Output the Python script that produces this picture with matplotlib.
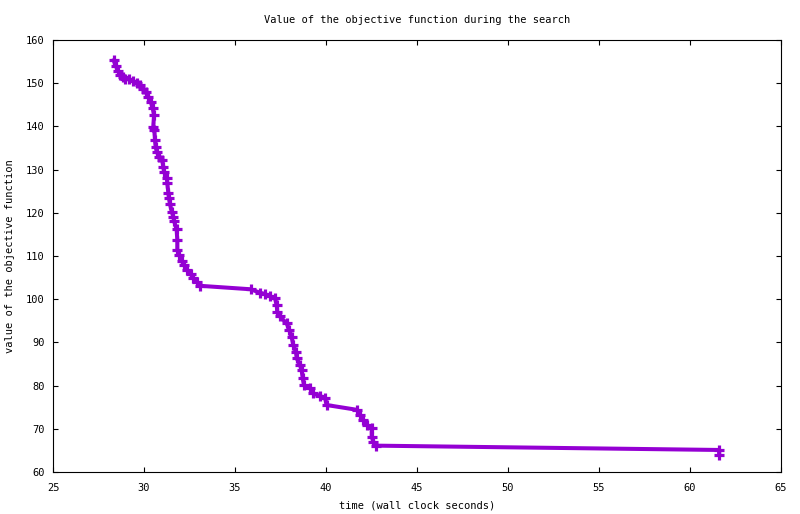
#!/usr/bin/env python3
# -*- coding: utf-8 -*-
"""
Objective function value during the search (gnuplot-style linespoints)
"""

import matplotlib
matplotlib.use("Agg")
import matplotlib.pyplot as plt
from matplotlib import rcParams

rcParams['font.family'] = ['DejaVu Sans Mono']
rcParams['font.size'] = 7.5

# time (wall clock seconds) and objective value
time_s = [
    28.33, 28.45, 28.58, 28.7, 28.83, 28.95, 29.19, 29.4, 29.6, 29.78,
    29.96, 30.1, 30.24, 30.37, 30.48, 30.55, 30.51, 30.57, 30.6, 30.64,
    30.7, 30.84, 31.0, 31.06, 31.1, 31.25, 31.28, 31.34, 31.37, 31.43,
    31.52, 31.61, 31.66, 31.79, 31.83, 31.83, 31.94, 32.07, 32.2, 32.38,
    32.57, 32.71, 32.9, 33.08, 35.86, 36.37, 36.65, 36.92, 37.2, 37.29,
    37.32, 37.47, 37.84, 37.98, 38.11, 38.2, 38.35, 38.39, 38.57, 38.66,
    38.72, 38.79, 39.12, 39.3, 39.67, 39.95, 40.04, 41.69, 41.87, 42.05,
    42.24, 42.51, 42.51, 42.6, 42.75, 61.6, 61.6,
]
objective = [
    155.3, 154.0, 152.8, 152.0, 151.5, 151.0, 150.9, 150.6, 150.0, 149.6,
    148.6, 148.0, 146.9, 145.7, 144.2, 142.6, 139.9, 139.2, 136.9, 135.3,
    134.1, 133.0, 132.2, 130.7, 129.5, 128.1, 126.8, 124.5, 123.4, 122.0,
    120.3, 119.1, 118.0, 116.2, 113.7, 111.4, 110.2, 108.9, 107.9, 106.8,
    105.8, 104.8, 104.0, 103.1, 102.3, 101.5, 101.2, 100.7, 100.2, 98.7,
    97.1, 96.0, 94.4, 92.9, 91.3, 89.4, 87.8, 86.3, 84.8, 83.6,
    81.7, 80.1, 79.4, 78.2, 77.6, 77.1, 75.5, 74.4, 73.2, 72.0,
    70.9, 70.1, 68.2, 67.0, 66.1, 65.1, 64.0,
]

x_ticks = [25, 30, 35, 40, 45, 50, 55, 60, 65]
y_ticks = [60, 70, 80, 90, 100, 110, 120, 130, 140, 150, 160]

fig = plt.figure(figsize=(8.0, 5.14), dpi=100)
ax = fig.add_axes([53 / 800, 1 - 472 / 514, 728 / 800, 432 / 514])

ax.plot(time_s, objective, color='#9400d3', linewidth=2.9,
        marker='+', markersize=6.5, markeredgewidth=2.3)

ax.set_xlim(25, 65)
ax.set_ylim(60, 160)
ax.set_xticks(x_ticks)
ax.set_yticks(y_ticks)
ax.tick_params(direction='in', length=3.3, width=0.8, top=True, right=True,
               labelsize=7.5, color='black')
ax.tick_params(axis='x', pad=8)
ax.tick_params(axis='y', pad=6)
for sp in ax.spines.values():
    sp.set_linewidth(0.8)

fig.text(417 / 800, 1 - 20 / 514, 'Value of the objective function during the search',
         ha='center', va='center', fontsize=7.5)
fig.text(417 / 800, 1 - 505 / 514, 'time (wall clock seconds)',
         ha='center', va='center', fontsize=7.5)
fig.text(10 / 800, 1 - 256 / 514, 'value of the objective function',
         ha='center', va='center', rotation=90, fontsize=7.5)

fig.savefig('out.png', dpi=100)
